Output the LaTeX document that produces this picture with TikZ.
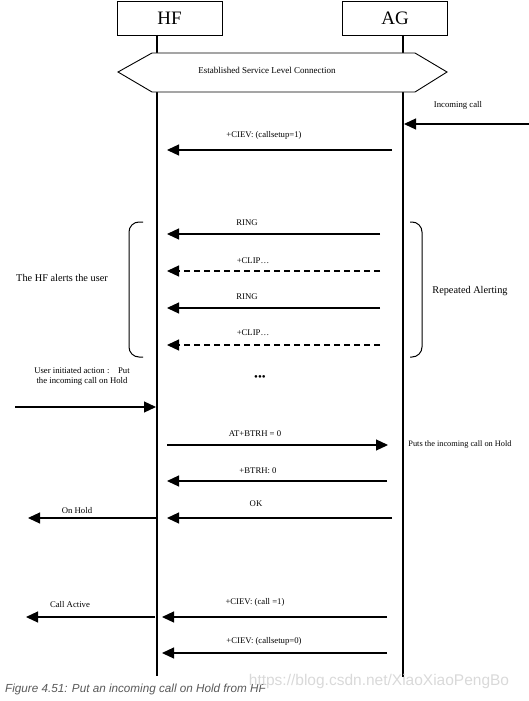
\documentclass[tikz,border=0pt]{standalone}
\usepackage{fontspec}
\setmainfont{Liberation Serif}
\newfontfamily\capfont{Liberation Sans}
\usetikzlibrary{arrows.meta,positioning}

\begin{document}
\begin{tikzpicture}[
  x=1pt, y=-1pt,
  font=\fontsize{8.7}{10}\selectfont,
  entity/.style={
    draw, line width=0.9pt, inner sep=0pt,
    minimum width=105pt, minimum height=34pt, font=\fontsize{19}{20}\selectfont
  },
  lifeline/.style={line width=1.2pt},
  msg/.style={-{Triangle[length=12pt,width=11pt]}, line width=1.2pt},
  dmsg/.style={msg, dash pattern=on 6pt off 4pt},
  lbl/.style={inner sep=1pt},
  biglbl/.style={lbl, font=\fontsize{10.3}{12}\selectfont},
  bracket/.style={line width=1pt, rounded corners=10pt}
]
\useasboundingbox (0,0) rectangle (529,701);

% entities and lifelines
\node[entity] (hf) at (169.5,18) {HF};
\node[entity] (ag) at (395,18) {AG};
\coordinate (hftop) at (157,35);
\coordinate (hfbot) at (157,676);
\coordinate (agtop) at (403,35);
\coordinate (agbot) at (403,677);
\draw[lifeline] (hftop) -- (hfbot);
\draw[lifeline] (agtop) -- (agbot);

% service level connection
\draw[line width=0.9pt, fill=white]
  (118,72) -- (152,53) -- (415,53) -- (447,72) -- (415,92) -- (152,92) -- cycle;
\node[lbl, font=\fontsize{9}{10}\selectfont] (slc) at (267,70)
  {Established Service Level Connection};

% incoming call
\coordinate (net) at (529,124);
\coordinate (agin) at (404,124);
\draw[msg] (net) -- (agin);
\node[lbl] (incall) at (458,105) {Incoming call};

\coordinate (ag1) at (392,150);
\coordinate (hf1) at (167,150);
\draw[msg] (ag1) -- (hf1);
\node[lbl] (cs1) at (264,135) {+CIEV: (callsetup=1)};

% repeated alerting
\coordinate (ag2) at (380,234);
\coordinate (hf2) at (167,234);
\draw[msg] (ag2) -- (hf2);
\node[lbl] (ring1) at (247,223) {RING};

\coordinate (ag3) at (380,271);
\coordinate (hf3) at (167,271);
\draw[dmsg] (ag3) -- (hf3);
\node[lbl] (clip1) at (253,261) {+CLIP\ldots};

\coordinate (ag4) at (380,308);
\coordinate (hf4) at (167,308);
\draw[msg] (ag4) -- (hf4);
\node[lbl] (ring2) at (247,297) {RING};

\coordinate (ag5) at (380,345);
\coordinate (hf5) at (167,345);
\draw[dmsg] (ag5) -- (hf5);
\node[lbl] (clip2) at (253,333) {+CLIP\ldots};

\draw[bracket] (143,222) -- (129,222) -- (129,357) -- (143,357);
\draw[bracket] (410,222) -- (422,222) -- (422,357) -- (410,357);
\node[biglbl] (alert) at (62,278) {The HF alerts the user};
\node[biglbl] (repeat) at (470,291) {Repeated Alerting};

\node[lbl, font=\fontsize{11}{11}\selectfont] (dots) at (260,378)
  {\textbullet\textbullet\textbullet};

% user puts the call on hold
\coordinate (user) at (15,407);
\coordinate (hfin) at (156,407);
\draw[msg] (user) -- (hfin);
\node[lbl, align=center] (uact) at (82,376)
  {User initiated action :\quad Put\\the incoming call on Hold};

\coordinate (hf6) at (167,445);
\coordinate (ag6) at (388,445);
\draw[msg] (hf6) -- (ag6);
\node[lbl] (btrh) at (255,434) {AT+BTRH = 0};
\node[lbl, font=\fontsize{8.3}{10}\selectfont] (puts) at (460,445)
  {Puts the incoming call on Hold};

\coordinate (ag7) at (387,481);
\coordinate (hf7) at (167,481);
\draw[msg] (ag7) -- (hf7);
\node[lbl] (rbtrh) at (258,471) {+BTRH: 0};

\coordinate (ag8) at (392,518);
\coordinate (hf8) at (167,518);
\draw[msg] (ag8) -- (hf8);
\node[lbl] (ok) at (256,504) {OK};

\coordinate (hfh) at (157,518);
\coordinate (uhold) at (28,518);
\draw[msg] (hfh) -- (uhold);
\node[lbl] (onhold) at (77,511) {On Hold};

% call becomes active
\coordinate (ag9) at (387,617);
\coordinate (hf9) at (162,617);
\draw[msg] (ag9) -- (hf9);
\node[lbl] (call1) at (255,602) {+CIEV: (call =1)};

\coordinate (hfa) at (155,617);
\coordinate (uact2) at (26,617);
\draw[msg] (hfa) -- (uact2);
\node[lbl] (active) at (70,605) {Call Active};

\coordinate (ag10) at (387,653);
\coordinate (hf10) at (162,653);
\draw[msg] (ag10) -- (hf10);
\node[lbl] (cs0) at (264,641) {+CIEV: (callsetup=0)};

% caption
\node[lbl, anchor=west, text=black!65, font=\capfont\itshape\fontsize{11.7}{13}\selectfont]
  (fig) at (4,689) {Figure 4.51: Put an incoming call on Hold from HF};
\node[lbl, text=black!15, font=\capfont\fontsize{15.5}{16}\selectfont]
  (mark) at (379,681) {https://blog.csdn.net/XiaoXiaoPengBo};
\end{tikzpicture}
\end{document}
